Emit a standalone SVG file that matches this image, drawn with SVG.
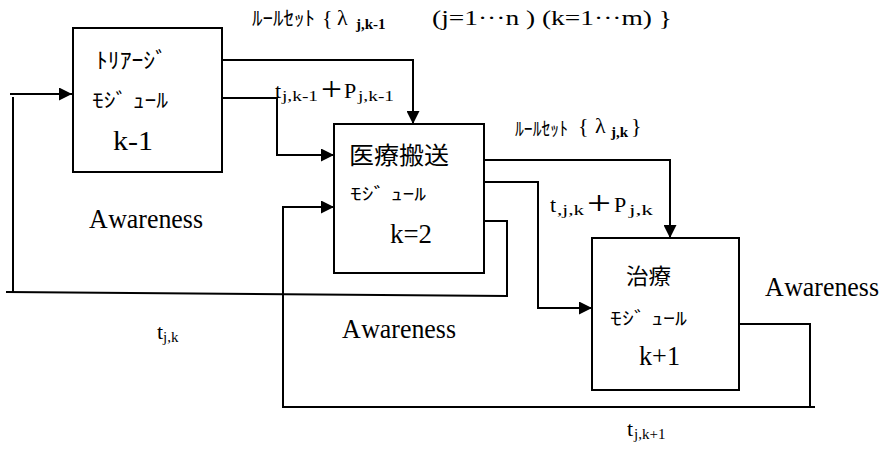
<svg xmlns="http://www.w3.org/2000/svg" width="889" height="450" viewBox="0 0 889 450">
<style>
.box{fill:#fff;stroke:#000;stroke-width:2}
.ln{fill:none;stroke:#000;stroke-width:2}
.t{font-family:'Liberation Serif',serif;fill:#000}
.s{font-size:15px}
.j{font-family:'Noto Sans CJK JP',sans-serif;fill:#000}
.aw{font-family:'Liberation Serif',serif;fill:#000;font-size:27px}
</style>
<defs>
<marker id="ah" markerWidth="13" markerHeight="13" refX="13" refY="6.5" orient="auto" markerUnits="userSpaceOnUse">
<path d="M0,0 L13,6.5 L0,13 Z" fill="#000"/>
</marker>
</defs>
<rect width="889" height="450" fill="#fff"/>
<g id="connectors">
<path class="ln" d="M10,94 H72" marker-end="url(#ah)"/>
<path class="ln" d="M222,60 H413 V124" marker-end="url(#ah)"/>
<path class="ln" d="M222,98 H277 V155 H334" marker-end="url(#ah)"/>
<path class="ln" d="M484,160 H670 V238" marker-end="url(#ah)"/>
<path class="ln" d="M484,182 H538 V308 H592" marker-end="url(#ah)"/>
<path class="ln" d="M484,221 H507 V296 L6,292 M13,292 V97"/>
<path class="ln" d="M739,324 H810 V407 M815,407 H283 V207 H334" marker-end="url(#ah)"/>
</g>
<g id="module-k-1">
<rect class="box" x="73" y="28" width="149" height="144"/>
<text class="j" x="96" y="68" font-size="22" textLength="71" lengthAdjust="spacingAndGlyphs">ﾄﾘｱｰｼﾞ</text>
<text class="j" x="92" y="108" font-size="20" textLength="76" lengthAdjust="spacingAndGlyphs">ﾓｼﾞ ｭｰﾙ</text>
<text class="t" font-family="'Liberation Serif',serif" x="113" y="150" font-size="28" textLength="40" lengthAdjust="spacingAndGlyphs">k-1</text>
</g>
<g id="module-k2">
<rect class="box" x="334" y="124" width="150" height="149"/>
<text class="j" x="349" y="164" font-size="24" textLength="100" lengthAdjust="spacingAndGlyphs">医療搬送</text>
<text class="j" x="350" y="200" font-size="17" textLength="76" lengthAdjust="spacingAndGlyphs">ﾓｼﾞ ｭｰﾙ</text>
<text class="t" font-family="'Liberation Serif',serif" x="390" y="243" font-size="27" textLength="42" lengthAdjust="spacingAndGlyphs">k=2</text>
</g>
<g id="module-k+1">
<rect class="box" x="592" y="238" width="147" height="152"/>
<text class="j" x="626" y="284" font-size="22" textLength="45" lengthAdjust="spacingAndGlyphs">治療</text>
<text class="j" x="610" y="325" font-size="18" textLength="77" lengthAdjust="spacingAndGlyphs">ﾓｼﾞ ｭｰﾙ</text>
<text class="t" font-family="'Liberation Serif',serif" x="639" y="365" font-size="27" textLength="41" lengthAdjust="spacingAndGlyphs">k+1</text>
</g>
<g id="labels" font-family="'Liberation Serif',serif">
<text class="j" x="252" y="26" font-size="20" textLength="63" lengthAdjust="spacingAndGlyphs">ﾙｰﾙｾｯﾄ</text>
<text class="t" font-size="22"><tspan x="322" y="25">{</tspan><tspan x="337" y="25">λ</tspan><tspan class="s" x="356" y="29" font-weight="bold">j,k-1</tspan><tspan x="432" y="25" textLength="240" lengthAdjust="spacingAndGlyphs">(j=1···n ) (k=1···m) }</tspan></text>
<text class="j" x="515" y="136" font-size="19" textLength="53" lengthAdjust="spacingAndGlyphs">ﾙｰﾙｾｯﾄ</text>
<text class="t" font-size="22"><tspan x="578" y="133">{</tspan><tspan x="595" y="133">λ</tspan><tspan class="s" x="611" y="137" font-weight="bold">j,k</tspan><tspan x="631" y="133">}</tspan></text>
<text class="t" font-size="22"><tspan x="275" y="98">t</tspan><tspan class="s" x="282" y="101" textLength="36" lengthAdjust="spacingAndGlyphs">j,k-1</tspan><tspan x="321" y="100" font-size="34" textLength="21" lengthAdjust="spacingAndGlyphs">+</tspan><tspan x="344" y="98">P</tspan><tspan class="s" x="358" y="101" textLength="36" lengthAdjust="spacingAndGlyphs">j,k-1</tspan></text>
<text class="t" font-size="22"><tspan x="550" y="212">t</tspan><tspan class="s" x="557" y="215" textLength="27" lengthAdjust="spacingAndGlyphs">,j,k</tspan><tspan x="587" y="214" font-size="34" textLength="24" lengthAdjust="spacingAndGlyphs">+</tspan><tspan x="614" y="212">P</tspan><tspan class="s" x="629" y="215" textLength="24" lengthAdjust="spacingAndGlyphs">j,k</tspan></text>
<text class="aw" x="89" y="228" textLength="114" lengthAdjust="spacingAndGlyphs">A<tspan dx="3">wareness</tspan></text>
<text class="aw" x="342" y="338" textLength="114" lengthAdjust="spacingAndGlyphs">A<tspan dx="3">wareness</tspan></text>
<text class="aw" x="765" y="296" textLength="114" lengthAdjust="spacingAndGlyphs">A<tspan dx="3">wareness</tspan></text>
<text class="t" font-size="22"><tspan x="157" y="339">t</tspan><tspan class="s" x="163" y="342">j,k</tspan></text>
<text class="t" font-size="22"><tspan x="627" y="436">t</tspan><tspan class="s" x="634" y="439">j,k+1</tspan></text>
</g>
</svg>
